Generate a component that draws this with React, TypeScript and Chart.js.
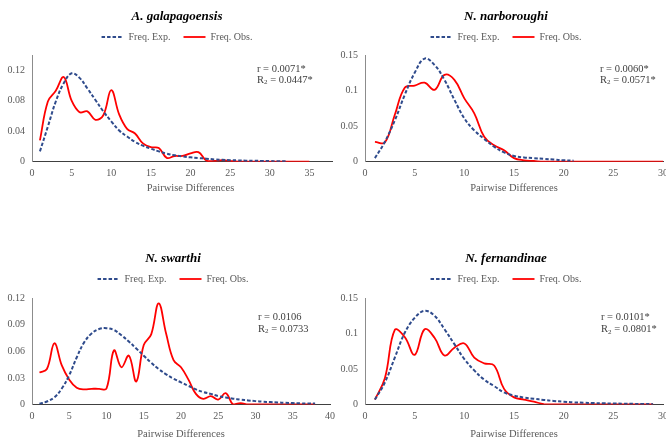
import React, { useEffect, useRef } from 'react';
import { Chart, registerables } from 'chart.js';

Chart.register(...registerables);

const SERIF = "'Liberation Serif', 'Times New Roman', Times, serif";
const EXP_COLOR = '#2F4B8C';
const OBS_COLOR = '#FF0000';
const TEXT_COLOR = '#595959';

const seriesLabels = ['Freq. Exp.', 'Freq. Obs.'];
const xAxisTitle = 'Pairwise Differences';

// A. galapagoensis (x = 1, 2, 3, ...)
const galExp = [0.0136, 0.046, 0.079, 0.103, 0.116, 0.11, 0.096, 0.081, 0.066, 0.053, 0.041, 0.033, 0.026, 0.021, 0.017, 0.0136, 0.0106, 0.0084, 0.007, 0.0057, 0.0048, 0.004, 0.003, 0.0025, 0.002, 0.0017, 0.0014, 0.0012, 0.001, 0.0008, 0.0007, 0.0006];
const galObs = [0.028, 0.079, 0.093, 0.111, 0.08, 0.065, 0.066, 0.055, 0.061, 0.094, 0.062, 0.043, 0.037, 0.024, 0.019, 0.018, 0.005, 0.0075, 0.0075, 0.011, 0.0125, 0.0015, 0.001, 0.002, 0.001, 0, 0, 0, 0, 0, 0, 0, 0, 0, 0];

// N. narboroughi
const narExp = [0.005, 0.028, 0.058, 0.094, 0.125, 0.145, 0.136, 0.115, 0.087, 0.061, 0.044, 0.032, 0.021, 0.013, 0.008, 0.006, 0.005, 0.004, 0.003, 0.002, 0.0015];
const narObs = [0.028, 0.027, 0.066, 0.104, 0.107, 0.111, 0.101, 0.122, 0.115, 0.089, 0.068, 0.035, 0.023, 0.016, 0.005, 0.002, 0.001, 0, 0, 0, 0, 0, 0, 0, 0, 0, 0, 0, 0, 0];

// N. swarthi
const swaExp = [0.0008, 0.0034, 0.008, 0.018, 0.033, 0.053, 0.07, 0.08, 0.085, 0.086, 0.084, 0.078, 0.071, 0.063, 0.055, 0.047, 0.04, 0.034, 0.029, 0.025, 0.021, 0.017, 0.014, 0.012, 0.0095, 0.008, 0.0066, 0.0055, 0.0046, 0.0038, 0.0032, 0.0027, 0.0023, 0.0019, 0.0016, 0.0013, 0.0011, 0.001];
const swaObs = [0.036, 0.04, 0.069, 0.044, 0.028, 0.019, 0.017, 0.0177, 0.0177, 0.018, 0.061, 0.042, 0.055, 0.026, 0.067, 0.079, 0.114, 0.08, 0.05, 0.042, 0.028, 0.012, 0.0064, 0.0094, 0.0056, 0.0128, 0, 0.0015, 0, 0, 0, 0, 0, 0, 0, 0, 0, 0];

// N. fernandinae
const ferExp = [0.007, 0.031, 0.066, 0.101, 0.122, 0.132, 0.125, 0.106, 0.085, 0.064, 0.048, 0.035, 0.026, 0.017, 0.0126, 0.0098, 0.008, 0.0065, 0.005, 0.004, 0.003, 0.0025, 0.002, 0.0017, 0.0014, 0.0011, 0.0009, 0.0007, 0.0005];
const ferObs = [0.007, 0.037, 0.105, 0.095, 0.07, 0.106, 0.094, 0.069, 0.08, 0.086, 0.066, 0.058, 0.055, 0.022, 0.01, 0.007, 0.004, 0.0005, 0, 0, 0, 0, 0, 0, 0, 0, 0, 0, 0];

const panelTitles = ['A. galapagoensis', 'N. narboroughi', 'N. swarthi', 'N. fernandinae'];
const rValues = ['0.0071*', '0.0060*', '0.0106', '0.0101*'];
const r2Values = ['0.0447*', '0.0571*', '0.0733', '0.0801*'];
const xMaxes = [40, 30, 40, 30];
const yMaxes = [0.14, 0.15, 0.12, 0.15];
const ySteps = [0.04, 0.05, 0.03, 0.05];

const statsPlugin = {
  id: 'statsText',
  afterDraw(chart: any, _args: any, opts: any) {
    const { ctx } = chart;
    ctx.save();
    ctx.fillStyle = '#404040';
    ctx.textBaseline = 'middle';
    ctx.textAlign = 'left';
    ctx.font = `10.5px ${SERIF}`;
    ctx.fillText(`r = ${opts.r}`, opts.x, opts.y1);
    ctx.fillText('R', opts.x, opts.y2);
    const w = ctx.measureText('R').width;
    ctx.font = `7px ${SERIF}`;
    ctx.fillText('2', opts.x + w, opts.y2 + 2.5);
    const w2 = ctx.measureText('2').width;
    ctx.font = `10.5px ${SERIF}`;
    ctx.fillText(` = ${opts.r2}`, opts.x + w + w2, opts.y2);
    ctx.restore();
  },
};

type Layout = {
  left: number; top: number; clipW: number; w: number; h: number;
  padR: number; padT: number; padB: number;
  rightW: number; topH: number; xH: number; xTitlePadB: number;
  sx: number; sy1: number; sy2: number;
};

const layouts: Layout[] = [
  { left: 0, top: 0, clipW: 333, w: 360, h: 222, padR: 6, padT: 2, padB: 27.3, rightW: 0, topH: 3, xH: 33, xTitlePadB: 0.2, sx: 257, sy1: 69, sy2: 80 },
  { left: 333, top: 0, clipW: 333, w: 350, h: 222, padR: 4, padT: 2, padB: 27.3, rightW: 16, topH: 3, xH: 33, xTitlePadB: 0.2, sx: 267, sy1: 69, sy2: 80 },
  { left: 0, top: 222, clipW: 350, w: 350, h: 223, padR: 4, padT: 22, padB: 4.5, rightW: 16, topH: 4, xH: 36, xTitlePadB: 0.3, sx: 258, sy1: 95, sy2: 107 },
  { left: 333, top: 222, clipW: 333, w: 350, h: 223, padR: 4, padT: 22, padB: 4.5, rightW: 16, topH: 4, xH: 36, xTitlePadB: 0.3, sx: 268, sy1: 95.7, sy2: 107.3 },
];

const seriesPairs = [
  [galExp, galObs],
  [narExp, narObs],
  [swaExp, swaObs],
  [ferExp, ferObs],
];

const toPoints = (arr: number[]) => arr.map((v, i) => ({ x: i + 1, y: v }));
const onStep = (v: number, step: number) => Math.abs(v / step - Math.round(v / step)) < 1e-6;

function Panel({ idx }: { idx: number }) {
  const ref = useRef<HTMLCanvasElement | null>(null);
  const L = layouts[idx];
  useEffect(() => {
    if (!ref.current) return;
    const [exp, obs] = seriesPairs[idx];
    const tickFont = { family: SERIF, size: 10 };
    const chart = new Chart(ref.current, {
      type: 'line',
      data: {
        datasets: [
          {
            label: seriesLabels[0],
            data: toPoints(exp),
            borderColor: EXP_COLOR,
            backgroundColor: EXP_COLOR,
            borderWidth: 2,
            borderDash: [3.5, 2],
            pointRadius: 0,
            tension: 0.4,
            fill: false,
            xAxisID: 'x',
            yAxisID: 'y',
          },
          {
            label: seriesLabels[1],
            data: toPoints(obs),
            borderColor: OBS_COLOR,
            backgroundColor: OBS_COLOR,
            borderWidth: 1.8,
            pointRadius: 0,
            tension: 0.4,
            fill: false,
            xAxisID: 'x',
            yAxisID: 'y',
          },
        ],
      },
      options: {
        responsive: false,
        animation: false,
        layout: { padding: { left: 0, right: L.padR, top: L.padT, bottom: L.padB } },
        plugins: {
          title: {
            display: true,
            text: panelTitles[idx],
            color: '#000000',
            font: { family: SERIF, size: 13, weight: 'bold', style: 'italic' },
            padding: { top: 7.2, bottom: -5.8 },
          },
          legend: {
            display: true,
            position: 'top',
            labels: {
              usePointStyle: true,
              pointStyle: 'line',
              pointStyleWidth: 22,
              color: TEXT_COLOR,
              font: { family: SERIF, size: 10 },
              padding: 13,
              generateLabels: (c: any) =>
                c.data.datasets.map((ds: any, i: number) => ({
                  text: ds.label,
                  fillStyle: ds.borderColor,
                  strokeStyle: ds.borderColor,
                  lineWidth: ds.borderWidth,
                  lineDash: ds.borderDash || [],
                  lineCap: 'butt',
                  pointStyle: 'line',
                  fontColor: TEXT_COLOR,
                  hidden: false,
                  datasetIndex: i,
                })),
            },
          },
          tooltip: { enabled: false },
          statsText: { x: L.sx, y1: L.sy1, y2: L.sy2, r: rValues[idx], r2: r2Values[idx] },
        } as any,
        scales: {
          x: {
            type: 'linear',
            position: 'bottom',
            min: 0,
            max: xMaxes[idx],
            ticks: { stepSize: 5, padding: 6, color: TEXT_COLOR, font: tickFont, maxRotation: 0, autoSkip: false },
            grid: { display: false, drawTicks: false, tickLength: 0 },
            border: { display: true, color: '#404040', width: 1 },
            title: {
              display: true,
              text: xAxisTitle,
              color: TEXT_COLOR,
              font: { family: SERIF, size: 10.5 },
              padding: { top: 0, bottom: L.xTitlePadB },
            },
            afterBuildTicks: (s: any) => { s.ticks = s.ticks.filter((t: any) => onStep(t.value, 5)); },
            afterFit: (s: any) => { s.height = L.xH; },
          },
          y: {
            type: 'linear',
            position: 'left',
            min: 0,
            max: yMaxes[idx],
            ticks: {
              stepSize: ySteps[idx],
              padding: 7,
              color: TEXT_COLOR,
              font: tickFont,
              callback: (v: any) => String(+Number(v).toFixed(4)),
            },
            grid: { display: false, drawTicks: false, tickLength: 0 },
            border: { display: true, color: '#8C8C8C', width: 1 },
            afterBuildTicks: (s: any) => { s.ticks = s.ticks.filter((t: any) => onStep(t.value, ySteps[idx])); },
            afterFit: (s: any) => { s.width = 32; },
          },
          xTop: {
            type: 'linear',
            axis: 'x',
            position: 'top',
            display: true,
            ticks: { display: false },
            grid: { display: false, drawTicks: false },
            border: { display: false },
            afterFit: (s: any) => { s.height = L.topH; },
          },
          yRight: {
            type: 'linear',
            axis: 'y',
            position: 'right',
            display: L.rightW > 0,
            ticks: { display: false },
            grid: { display: false, drawTicks: false },
            border: { display: false },
            afterFit: (s: any) => { s.width = L.rightW; },
          },
        },
      } as any,
      plugins: [statsPlugin as any],
    });
    return () => chart.destroy();
  }, [idx]);
  return (
    <div style={{ position: 'absolute', left: L.left, top: L.top, width: L.clipW, height: L.h, overflow: 'hidden' }}>
      <canvas ref={ref} width={L.w} height={L.h} style={{ display: 'block', width: L.w, height: L.h }} />
    </div>
  );
}

export default function App() {
  return (
    <div style={{ position: 'fixed', left: 0, top: 0, width: 666, height: 445, overflow: 'hidden', background: '#ffffff' }}>
      {[0, 1, 2, 3].map((i) => <Panel key={i} idx={i} />)}
    </div>
  );
}
